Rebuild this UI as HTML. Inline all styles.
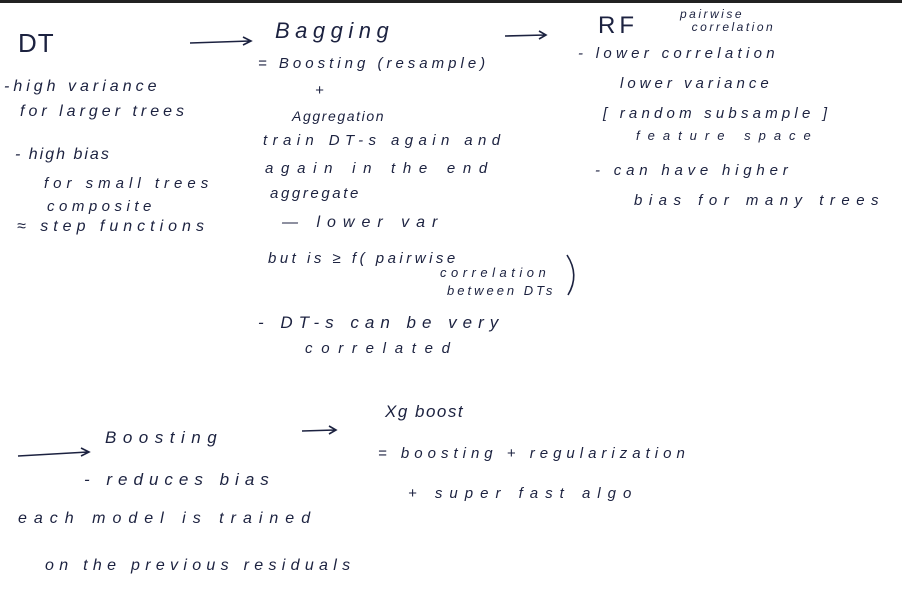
<!DOCTYPE html>
<html><head><meta charset="utf-8"><style>
body{margin:0;width:902px;height:609px;background:#fff;position:relative;overflow:hidden;font-family:"Liberation Sans",sans-serif;color:#1c2240}
.t{position:absolute;white-space:nowrap;font-style:italic;letter-spacing:1px}
.bar{position:absolute;left:0;top:0;width:902px;height:3px;background:#222}
</style></head><body>
<div class="bar"></div>
<svg width="902" height="609" style="position:absolute;left:0;top:0" stroke="#1c2240" stroke-width="1.6" fill="none">
<path d="M190 43 L250 41 M243 37 L251 41 L243 45"/>
<path d="M505 36 L545 35 M539 31 L546 35 L539 39"/>
<path d="M18 456 L88 452 M81 448 L89 452 L81 456"/>
<path d="M302 431 L335 430 M329 426 L336 430 L329 434"/>
<path d="M567 255 Q580 275 568 295"/>
</svg>
<div class="t" style="left:18px;top:28px;font-size:26px;font-style:normal">DT</div>
<div class="t" style="left:275px;top:18px;font-size:22px;letter-spacing:5.5px">Bagging</div>
<div class="t" style="left:598px;top:12px;font-size:24px;font-style:normal;letter-spacing:4px">RF</div>
<div class="t" style="left:680px;top:8px;font-size:12px;line-height:13px;letter-spacing:2.5px">pairwise<br>&nbsp;&nbsp;correlation</div>
<div class="t" style="left:4px;top:78px;font-size:16px;letter-spacing:4px">-high variance</div>
<div class="t" style="left:20px;top:103px;font-size:16px;letter-spacing:4px">for larger trees</div>
<div class="t" style="left:15px;top:146px;font-size:16px;letter-spacing:2px">- high bias</div>
<div class="t" style="left:44px;top:175px;font-size:15px;letter-spacing:5px">for small trees</div>
<div class="t" style="left:47px;top:198px;font-size:15px;letter-spacing:4.5px">composite</div>
<div class="t" style="left:17px;top:218px;font-size:16px;letter-spacing:5px">≈ step functions</div>
<div class="t" style="left:258px;top:55px;font-size:15px;letter-spacing:4px">= Boosting (resample)</div>
<div class="t" style="left:315px;top:82px;font-size:15px">+</div>
<div class="t" style="left:292px;top:108px;font-size:14px;letter-spacing:1.6px">Aggregation</div>
<div class="t" style="left:263px;top:132px;font-size:15px;letter-spacing:5.4px">train DT-s again and</div>
<div class="t" style="left:265px;top:160px;font-size:15px;letter-spacing:7.7px">again in the end</div>
<div class="t" style="left:270px;top:185px;font-size:15px;letter-spacing:2.6px">aggregate</div>
<div class="t" style="left:282px;top:214px;font-size:16px;letter-spacing:7px">— lower var</div>
<div class="t" style="left:268px;top:250px;font-size:15px;letter-spacing:3.5px">but is ≥ f( pairwise</div>
<div class="t" style="left:440px;top:265px;font-size:13px;letter-spacing:4.5px">correlation</div>
<div class="t" style="left:447px;top:283px;font-size:13px;letter-spacing:3px">between DTs</div>
<div class="t" style="left:258px;top:313px;font-size:17px;letter-spacing:6px">- DT-s can be very</div>
<div class="t" style="left:305px;top:340px;font-size:15px;letter-spacing:8.7px">correlated</div>
<div class="t" style="left:578px;top:45px;font-size:15px;letter-spacing:4.3px">- lower correlation</div>
<div class="t" style="left:620px;top:75px;font-size:15px;letter-spacing:4px">lower variance</div>
<div class="t" style="left:603px;top:105px;font-size:15px;letter-spacing:4.2px">[ random subsample ]</div>
<div class="t" style="left:636px;top:128px;font-size:13px;letter-spacing:8px">feature space</div>
<div class="t" style="left:595px;top:162px;font-size:15px;letter-spacing:4.8px">- can have higher</div>
<div class="t" style="left:634px;top:192px;font-size:15px;letter-spacing:6.5px">bias for many trees</div>
<div class="t" style="left:105px;top:428px;font-size:17px;letter-spacing:6.5px">Boosting</div>
<div class="t" style="left:385px;top:402px;font-size:17px;letter-spacing:1.5px">Xg boost</div>
<div class="t" style="left:84px;top:470px;font-size:17px;letter-spacing:6px">- reduces bias</div>
<div class="t" style="left:378px;top:445px;font-size:15px;letter-spacing:5px">= boosting + regularization</div>
<div class="t" style="left:408px;top:485px;font-size:15px;letter-spacing:7px">+ super fast algo</div>
<div class="t" style="left:18px;top:510px;font-size:16px;letter-spacing:7px">each model is trained</div>
<div class="t" style="left:45px;top:557px;font-size:16px;letter-spacing:5.3px">on the previous residuals</div>
</body></html>
